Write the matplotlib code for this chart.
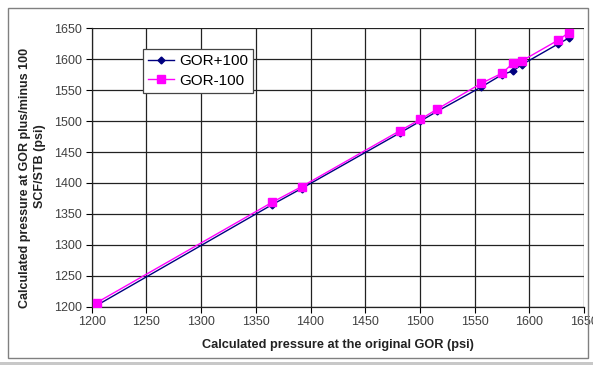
import matplotlib
matplotlib.use("Agg")
import matplotlib.pyplot as plt
from matplotlib.patches import Rectangle

plt.rcParams['font.family'] = ['Liberation Sans', 'DejaVu Sans']

x_orig = [1204.5, 1365, 1391.8, 1481.8, 1500.5, 1516, 1556, 1575, 1585, 1593, 1626.6, 1636]
gor_plus = [1202, 1365, 1391, 1481, 1500, 1516, 1555, 1575, 1581, 1591, 1625, 1634]
gor_minus = [1206.5, 1368.8, 1394, 1484.5, 1502.9, 1519.6, 1561, 1577.3, 1593.4, 1597.1, 1631.1, 1642.9]
xticks = [1200, 1250, 1300, 1350, 1400, 1450, 1500, 1550, 1600, 1650]
yticks = [1200, 1250, 1300, 1350, 1400, 1450, 1500, 1550, 1600, 1650]
ylabel_lines = ['Calculated pressure at GOR plus/minus 100', 'SCF/STB (psi)']

W, H = 593, 365
L, R, T, B = 91.7, 584, 28.3, 306.7

fig = plt.figure(figsize=(W/100, H/100), dpi=100)
fig.patches.append(Rectangle((8/W, 1-358/H), 580/W, 350/H, transform=fig.transFigure,
                             fill=False, edgecolor='#808080', linewidth=1.0))
fig.patches.append(Rectangle((0, 0), 1, 3/H, transform=fig.transFigure,
                             facecolor='#c8c8c8', edgecolor='none'))

ax = fig.add_axes([L/W, 1-B/H, (R-L)/W, (B-T)/H])
ax.plot(x_orig, gor_plus, color='#000080', marker='D', markersize=3.5, linewidth=1.0,
        label='GOR+100', zorder=3)
ax.plot(x_orig, gor_minus, color='#FF00FF', marker='s', markersize=5.5, linewidth=1.0,
        label='GOR-100', zorder=3)

ax.set_xlim(1200, 1650)
ax.set_ylim(1200, 1650)
ax.set_xticks(xticks)
ax.set_yticks(yticks)
ax.tick_params(labelsize=9, direction='out', length=4, width=0.8, colors='#000000',
               labelcolor='#404040', pad=3)
ax.grid(True, color='#222222', linewidth=0.9)
ax.set_axisbelow(True)
for side in ['top', 'right']:
    ax.spines[side].set_visible(False)
for side in ['left', 'bottom']:
    ax.spines[side].set_color('#222222')
    ax.spines[side].set_linewidth(0.9)

ax.set_xlabel('Calculated pressure at the original GOR (psi)', fontsize=9.2, fontweight='bold',
              color='#222222', va='center')
ax.xaxis.set_label_coords(0.5, -(345-B)/(B-T))

# two-line y label (lines positioned individually as in the reference)
fig.text(25/W, 1-178/H, ylabel_lines[0], rotation=90, ha='center', va='center',
         fontsize=9, fontweight='bold', color='#222222')
fig.text(39.5/W, 1-166/H, ylabel_lines[1], rotation=90, ha='center', va='center',
         fontsize=9, fontweight='bold', color='#222222')

leg = ax.legend(loc='upper left', bbox_to_anchor=((143-L)/(R-L), 1-(49-T)/(B-T)),
                borderaxespad=0, fontsize=11, frameon=True, fancybox=False, borderpad=0.35,
                handlelength=1.7, handletextpad=0.3, labelspacing=0.35)
leg.get_frame().set_edgecolor('#444444')
leg.get_frame().set_linewidth(0.9)
leg.get_frame().set_alpha(1)

fig.savefig('out.png', dpi=100)
